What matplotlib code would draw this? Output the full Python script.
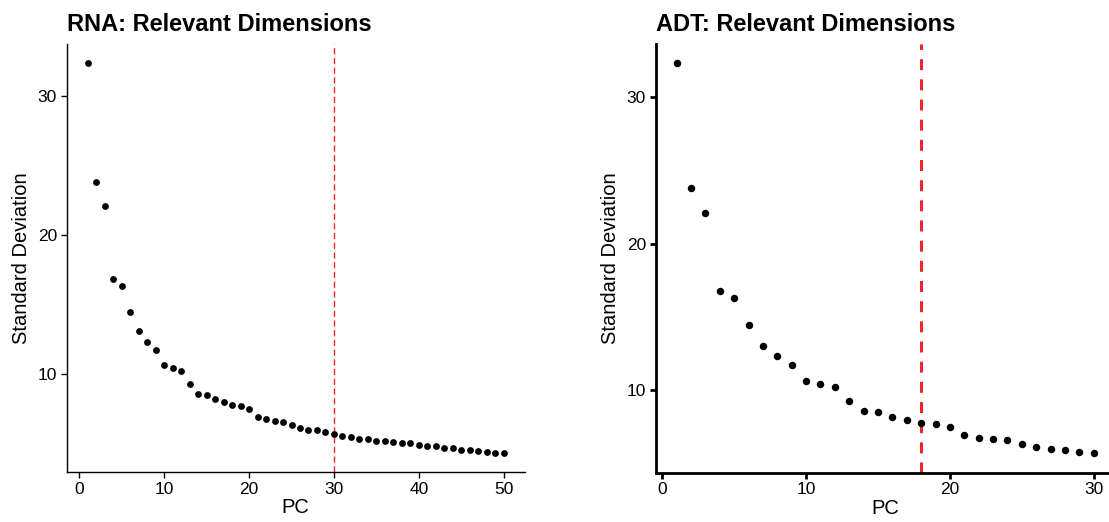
import matplotlib
matplotlib.use("Agg")
import matplotlib.pyplot as plt

plt.rcParams['font.family'] = ['Liberation Sans', 'DejaVu Sans']

# standard deviation per PC (elbow plot)
rna_pc = list(range(1, 51))
rna_sd = [32.34, 23.83, 22.11, 16.81, 16.33, 14.47, 13.06, 12.32, 11.75, 10.65,
          10.41, 10.22, 9.28, 8.57, 8.49, 8.21, 7.97, 7.76, 7.71, 7.47,
          6.94, 6.75, 6.65, 6.58, 6.34, 6.13, 6.01, 5.96, 5.82, 5.71,
          5.58, 5.48, 5.35, 5.35, 5.22, 5.20, 5.10, 5.03, 5.02, 4.89,
          4.82, 4.80, 4.72, 4.70, 4.57, 4.53, 4.48, 4.41, 4.36, 4.36]
adt_pc = list(range(1, 31))
adt_sd = rna_sd[:30]

rna_cut = 30
adt_cut = 18
rna_xticks = [0, 10, 20, 30, 40, 50]
adt_xticks = [0, 10, 20, 30]

W, H = 1109, 522
fig = plt.figure(figsize=(W / 100, H / 100), dpi=100)


def px(l, r, t, b):
    return [l / W, 1 - b / H, (r - l) / W, (b - t) / H]


def elbow(ax, x, y, cut, xticks, title, spine_w, dot_s, vline_w, dashes):
    ax.scatter(x, y, s=dot_s, color='black', linewidths=0, zorder=3)
    ax.axvline(cut, color='#f0252b', lw=vline_w, dashes=dashes, zorder=2)
    xr = max(x) - min(x)
    yr = max(y) - min(y)
    ax.set_xlim(min(x) - 0.05 * xr, max(x) + 0.05 * xr)
    ax.set_ylim(min(y) - 0.05 * yr, max(y) + 0.05 * yr)
    ax.set_xticks(xticks)
    ax.set_yticks([10, 20, 30])
    for s in ['top', 'right']:
        ax.spines[s].set_visible(False)
    for s in ['left', 'bottom']:
        ax.spines[s].set_linewidth(spine_w)
    ax.tick_params(length=4, width=spine_w, labelsize=12.5, colors='black', pad=3)
    ax.set_xlabel('PC', fontsize=14.5, labelpad=1)
    ax.set_ylabel('Standard Deviation', fontsize=14.5, labelpad=5)
    ax.set_title(title, fontsize=17, fontweight='bold', loc='left', pad=9, x=0.0)


ax1 = fig.add_axes(px(66.7, 524.8, 43.8, 472))
elbow(ax1, rna_pc, rna_sd, rna_cut, rna_xticks, 'RNA: Relevant Dimensions',
      1.0, 24, 1.0, (4.5, 2.5))

ax2 = fig.add_axes(px(655.8, 1114.6, 43.6, 472.7))
elbow(ax2, adt_pc, adt_sd, adt_cut, adt_xticks, 'ADT: Relevant Dimensions',
      2.0, 29, 2.2, (3.6, 3.0))

fig.savefig('out.png', dpi=100)
